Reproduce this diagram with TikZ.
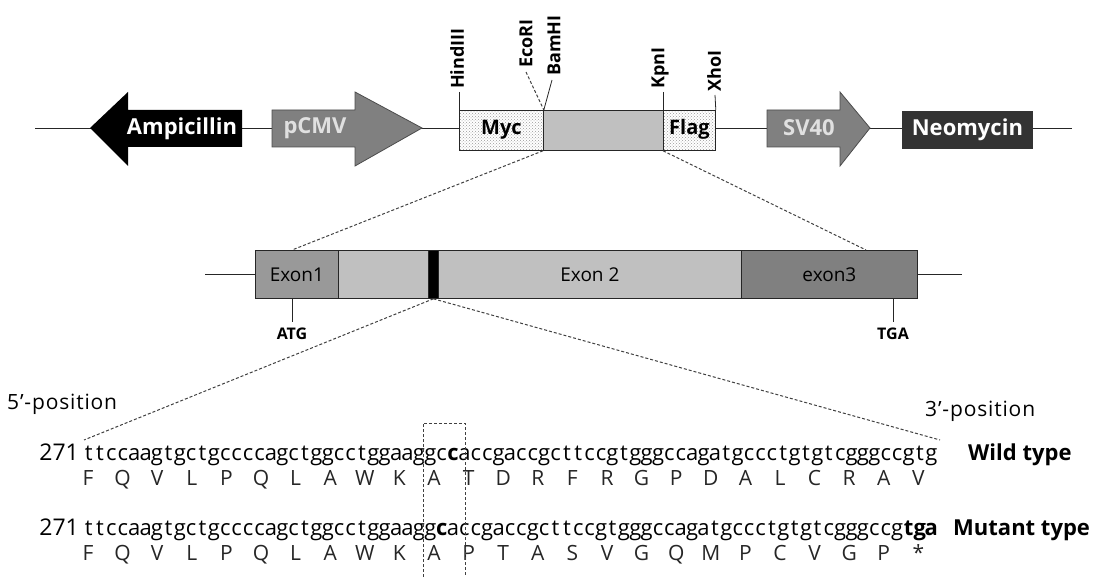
\documentclass[tikz,border=0pt]{standalone}
\usepackage{fontspec}
\setmainfont{Open Sans}
\usetikzlibrary{patterns}
\definecolor{midgray}{HTML}{808080}
\definecolor{lgray}{HTML}{C0C0C0}
\definecolor{e1gray}{HTML}{999999}
\definecolor{neo}{HTML}{333333}
\begin{document}
\begin{tikzpicture}[x=1pt,y=-1pt,
  edge/.style={draw=black!85, line width=0.8pt},
  dsh/.style={draw=black!75, line width=1pt, dash pattern=on 3pt off 2pt},
  wlbl/.style={font=\bfseries\fontsize{22}{26}\selectfont, text=white, inner sep=0pt},
  blbl/.style={font=\bfseries\fontsize{20}{24}\selectfont, text=black, inner sep=0pt},
  site/.style={font=\bfseries\fontsize{18}{20}\selectfont, rotate=90, anchor=west, inner sep=0pt},
  dotbox/.style={edge, pattern=crosshatch dots, pattern color=black!40, anchor=north west, inner sep=0pt},
  genebox/.style={edge, anchor=north west, inner sep=0pt, minimum height=48pt},
  exlbl/.style={font=\fontsize{19}{22}\selectfont, inner sep=0pt},
  codon/.style={font=\bfseries\fontsize{16}{19}\selectfont, inner sep=0pt},
  nt/.style={font=\fontsize{22}{25}\selectfont, inner sep=0pt, anchor=base},
  seqnum/.style={font=\fontsize{23}{26}\selectfont, inner sep=0pt, anchor=base east},
  aa/.style={font=\fontsize{21}{24}\selectfont, text=black!85, inner sep=0pt, anchor=base},
  side/.style={font=\bfseries\fontsize{22}{26}\selectfont, anchor=base west, inner sep=0pt},
  endlbl/.style={font=\fontsize{21}{24}\selectfont\addfontfeatures{LetterSpace=4}, anchor=west, inner sep=0pt}
]
\useasboundingbox (0,0) rectangle (1107,577);

% ---------- top construct ----------
\coordinate (bbL) at (35,128);
\coordinate (bbR) at (1072,128);
\draw[edge] (bbL) -- (bbR);

% Ampicillin (left arrow)
\fill[black] (90,128) -- (128,92) -- (128,110) -- (242,110) -- (242,147) -- (128,147) -- (128,166) -- cycle;
\node[wlbl] (amp) at (182,129) {Ampicillin};
% pCMV
\filldraw[fill=midgray, draw=black!70, line width=0.8pt] (272,110) -- (355,110) -- (355,92) -- (422,128) -- (355,166) -- (355,147) -- (272,147) -- cycle;
\node[wlbl, text=white!88!black] (cmv) at (315,128) {pCMV};
% SV40
\filldraw[fill=midgray, draw=black!70, line width=0.8pt] (767,110) -- (840,110) -- (840,92) -- (870,128) -- (840,166) -- (840,147) -- (767,147) -- cycle;
\node[wlbl, text=white!88!black] (sv) at (809,128) {SV40};
% Neomycin
\node[draw=black!80, fill=neo, line width=0.8pt, anchor=north west, minimum width=130pt, minimum height=37pt, inner sep=0pt] (neobox) at (902,111) {};
\node[wlbl] (neo) at (neobox.center) {Neomycin};

% Myc / insert / Flag
\fill[white] (459,110) rectangle (715,150);
\node[dotbox, minimum width=84pt, minimum height=40pt] (myc) at (459,110) {};
\node[edge, fill=lgray, anchor=north west, minimum width=120pt, minimum height=40pt, inner sep=0pt] (ins) at (543,110) {};
\node[dotbox, minimum width=52pt, minimum height=40pt] (flag) at (663,110) {};
\node[blbl] (myct) at ([yshift=1pt]myc.center) {Myc};
\node[blbl] (flagt) at ([yshift=1pt]flag.center) {Flag};

% restriction sites
\coordinate (h1) at (459,92);
\draw[edge] (h1) -- (myc.north west);
\node[site] (hind) at (457,89) {HindIII};
\coordinate (e1) at (526,72);
\draw[dsh] (e1) -- (myc.north east);
\node[site] (eco) at (526,68) {EcoRI};
\coordinate (b1) at (552,80);
\draw[edge] (b1) -- (myc.north east);
\node[site] (bam) at (554,76) {BamHI};
\coordinate (k1) at (663,92);
\draw[edge] (k1) -- (flag.north west);
\node[site] (kpn) at (660,89) {KpnI};
\coordinate (x1) at (715,95);
\draw[edge] (x1) -- (flag.north east);
\node[site] (xho) at (714,92) {XhoI};

% ---------- gene structure ----------
\coordinate (gL) at (205,274);
\coordinate (gR) at (962,274);
\draw[edge] (gL) -- (gR);
\node[genebox, fill=e1gray, minimum width=83pt] (ex1) at (255,250) {};
\node[genebox, fill=lgray, minimum width=90pt] (intr) at (338,250) {};
\node[genebox, fill=black, minimum width=10pt] (mut) at (428,250) {};
\node[genebox, fill=lgray, minimum width=303pt] (ex2) at (438,250) {};
\node[genebox, fill=midgray, minimum width=176pt] (ex3) at (741,250) {};
\node[exlbl] at (ex1.center) {Exon1};
\node[exlbl] at (ex2.center) {Exon 2};
\node[exlbl] at (ex3.center) {exon3};

\coordinate (atgT) at (292,298);
\coordinate (atgB) at (292,322);
\draw[edge] (atgT) -- (atgB);
\node[codon] (atg) at (292,334) {ATG};
\coordinate (tgaT) at (893,298);
\coordinate (tgaB) at (893,322);
\draw[edge] (tgaT) -- (tgaB);
\node[codon] (tga) at (893,334) {TGA};

% zoom lines
\coordinate (z1) at (292,250);
\coordinate (z2) at (866,250);
\draw[dsh] (ins.south west) -- (z1);
\draw[dsh] (flag.south west) -- (z2);
\coordinate (z3) at (84,440);
\coordinate (z4) at (940,440);
\draw[dsh] (mut.south) -- (z3);
\draw[dsh] (mut.south) -- (z4);

% ---------- sequences ----------
\node[endlbl] (p5) at (7,404) {5’-position};
\node[endlbl] (p3) at (925,411) {3’-position};

\node[seqnum] (n1) at (79,460) {271};
\foreach \c [count=\i from 0] in {t,t,c,c,a,a,g,t,g,c,t,g,c,c,c,c,a,g,c,t,g,g,c,c,t,g,g,a,a,g,g,c,\textbf{c},a,c,c,g,a,c,c,g,c,t,t,c,c,g,t,g,g,g,c,c,a,g,a,t,g,c,c,c,t,g,t,g,t,c,g,g,g,c,c,g,t,g}
  \node[nt] (wn\i) at ({83+(\i+0.5)*11.387},460) {\c};
\foreach \a [count=\i from 0] in {F,Q,V,L,P,Q,L,A,W,K,A,T,D,R,F,R,G,P,D,A,L,C,R,A,V}
  \node[aa] (w\i) at ({88+34.6*\i},485) {\a};
\node[side] (wt) at (968,460) {Wild type};

\node[seqnum] (n2) at (79,535) {271};
\foreach \c [count=\i from 0] in {t,t,c,c,a,a,g,t,g,c,t,g,c,c,c,c,a,g,c,t,g,g,c,c,t,g,g,a,a,g,g,\textbf{c},a,c,c,g,a,c,c,g,c,t,t,c,c,g,t,g,g,g,c,c,a,g,a,t,g,c,c,c,t,g,t,g,t,c,g,g,g,c,c,g,\textbf{t},\textbf{g},\textbf{a}}
  \node[nt] (mn\i) at ({83+(\i+0.5)*11.387},535) {\c};
\foreach \a [count=\i from 0] in {F,Q,V,L,P,Q,L,A,W,K,A,P,T,A,S,V,G,Q,M,P,C,V,G,P,*}
  \node[aa] (m\i) at ({88+34.6*\i},560) {\a};
\node[side] (mt) at (953,535) {Mutant type};

% dashed highlight box
\coordinate (d1) at (423,577);
\coordinate (d2) at (423,423);
\coordinate (d3) at (465,423);
\coordinate (d4) at (465,577);
\draw[dsh] (d1) -- (d2) -- (d3) -- (d4);
\end{tikzpicture}
\end{document}
